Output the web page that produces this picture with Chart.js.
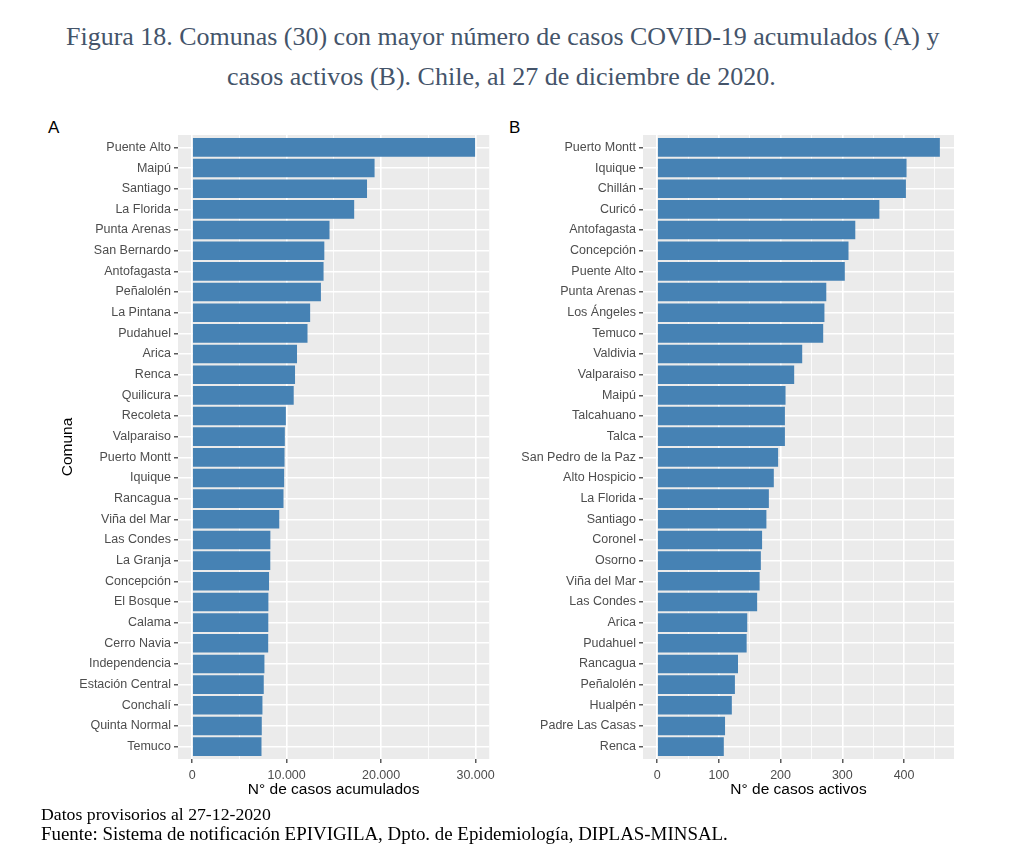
<!DOCTYPE html>
<html>
<head>
<meta charset="utf-8">
<script src="https://cdn.jsdelivr.net/npm/chart.js@4.4.1/dist/chart.umd.min.js"></script>
<style>
  html, body { margin:0; padding:0; background:#fff; }
  body { width:1020px; height:863px; position:relative; overflow:hidden; }
  .txt { position:absolute; white-space:nowrap; line-height:1; margin:0; }
  .serif { font-family:"Liberation Serif", serif; }
  .title { color:#44546A; }
  .foot { color:#000; }
  .tag { font-family:"Liberation Sans", Arial, sans-serif; color:#000; font-size:17px; }
  canvas { position:absolute; }
</style>
</head>
<body>
<div class="txt serif title fit" data-w="874" data-b="46" style="left:66px">Figura 18. Comunas (30) con mayor número de casos COVID-19 acumulados (A) y</div>
<div class="txt serif title fit" data-w="549" data-b="86" style="left:227px">casos activos (B). Chile, al 27 de diciembre de 2020.</div>
<div class="txt tag" data-b="133" style="left:48px">A</div>
<div class="txt tag" data-b="133" style="left:509px">B</div>
<canvas id="chartA" width="500" height="710" style="left:0px;top:100px"></canvas>
<canvas id="chartB" width="480" height="710" style="left:500px;top:100px"></canvas>
<div class="txt serif foot fit" data-w="230" data-b="821" style="left:41px">Datos provisorios al 27-12-2020</div>
<div class="txt serif foot fit" data-w="687" data-b="841" style="left:41px">Fuente: Sistema de notificación EPIVIGILA, Dpto. de Epidemiología, DIPLAS-MINSAL.</div>
<script>
// ---- Data ----
const comunasA = ["Puente Alto","Maipú","Santiago","La Florida","Punta Arenas","San Bernardo","Antofagasta","Peñalolén","La Pintana","Pudahuel","Arica","Renca","Quilicura","Recoleta","Valparaiso","Puerto Montt","Iquique","Rancagua","Viña del Mar","Las Condes","La Granja","Concepción","El Bosque","Calama","Cerro Navia","Independencia","Estación Central","Conchalí","Quinta Normal","Temuco"];
const casosAcumulados = [29950,19310,18510,17150,14540,13990,13910,13630,12490,12210,11100,10890,10750,9920,9810,9780,9740,9670,9220,8280,8270,8140,8070,8060,8050,7650,7580,7440,7370,7340];

const comunasB = ["Puerto Montt","Iquique","Chillán","Curicó","Antofagasta","Concepción","Puente Alto","Punta Arenas","Los Ángeles","Temuco","Valdivia","Valparaiso","Maipú","Talcahuano","Talca","San Pedro de la Paz","Alto Hospicio","La Florida","Santiago","Coronel","Osorno","Viña del Mar","Las Condes","Arica","Pudahuel","Rancagua","Peñalolén","Hualpén","Padre Las Casas","Renca"];
const casosActivos = [458,404,403,360,321,310,304,274,271,269,235,222,208,207,207,196,189,181,177,170,168,166,162,146,145,131,126,121,110,108];

const ticksA = [0,10000,20000,30000];
const minorTicksA = [5000,15000,25000];
const ticksB = [0,100,200,300,400];
const minorTicksB = [50,150,250,350,450];

// ---- Text fitting ----
document.querySelectorAll('.fit').forEach(el => {
  el.style.fontSize = '100px';
  const w100 = el.getBoundingClientRect().width;
  const S = 100 * (+el.dataset.w) / w100;
  el.style.fontSize = S + 'px';
  el.style.top = ((+el.dataset.b) - 0.8375 * S) + 'px';
});
document.querySelectorAll('.tag').forEach(el => {
  el.style.top = ((+el.dataset.b) - 0.8465 * 17) + 'px';
});

// ---- Charts ----
const fmt = v => String(v).replace(/\B(?=(\d{3})+(?!\d))/g, '.');
const panelBg = {
  id: 'panelBg',
  beforeDraw(chart) {
    const {ctx, chartArea: a} = chart;
    ctx.save();
    ctx.fillStyle = '#EBEBEB';
    ctx.fillRect(a.left, a.top, a.right - a.left, a.bottom - a.top);
    ctx.restore();
  }
};
const tickFont = {family: 'Liberation Sans', size: 12.5};
const titleFont = {family: 'Liberation Sans', size: 15.5};

function makeChart(id, cats, vals, major, minor, xTitle, yTitle, g) {
  const maxV = Math.max(...vals);
  const allTicks = major.concat(minor).sort((a, b) => a - b);
  const isMinor = v => minor.includes(v);
  return new Chart(document.getElementById(id), {
    type: 'bar',
    data: {
      datasets: [{
        data: vals.map((v, i) => ({x: v, y: i})),
        backgroundColor: '#4682B4',
        borderWidth: 0,
        barPercentage: 0.9,
        categoryPercentage: 1
      }]
    },
    options: {
      indexAxis: 'y',
      responsive: false,
      animation: false,
      events: [],
      layout: {padding: g.padding},
      plugins: {legend: {display: false}, tooltip: {enabled: false}},
      scales: {
        x: {
          type: 'linear', position: 'bottom',
          min: -0.05 * maxV, max: 1.05 * maxV, offset: false,
          afterBuildTicks: s => { s.ticks = allTicks.map(v => ({value: v})); },
          afterFit: s => { s.height = g.xh; },
          ticks: {autoSkip: false, maxRotation: 0, padding: 5, color: '#4D4D4D', font: tickFont,
                  callback: v => isMinor(v) ? '' : fmt(v)},
          grid: {
            color: '#FFFFFF',
            lineWidth: c => (c.tick && isMinor(c.tick.value)) ? 0.8 : 1.6,
            tickColor: c => (c.tick && isMinor(c.tick.value)) ? 'rgba(0,0,0,0)' : '#333333',
            tickLength: 4, tickWidth: 1.2, drawTicks: true, offset: false
          },
          border: {display: false},
          title: {display: true, text: xTitle, color: '#000', font: titleFont, padding: 0}
        },
        y: {
          type: 'linear', position: 'left',
          min: -0.6, max: cats.length - 0.4, reverse: true, offset: false,
          afterBuildTicks: s => { s.ticks = cats.map((_, i) => ({value: i})); },
          afterFit: s => { s.width = g.yw; },
          ticks: {autoSkip: false, padding: 3, color: '#4D4D4D', font: tickFont,
                  callback: v => cats[v]},
          grid: {color: '#FFFFFF', lineWidth: 1.6, tickColor: '#333333', tickLength: 4, tickWidth: 1.2, offset: false},
          border: {display: false},
          title: {display: !!yTitle, text: yTitle || '', color: '#000', font: titleFont, padding: 0}
        }
      }
    },
    plugins: [panelBg]
  });
}

makeChart('chartA', comunasA, casosAcumulados, ticksA, minorTicksA,
  'N° de casos acumulados', 'Comuna',
  {padding: {left: 58, top: 35, right: 7, bottom: 11}, yw: 120, xh: 40});
makeChart('chartB', comunasB, casosActivos, ticksB, minorTicksB,
  'N° de casos activos', null,
  {padding: {left: 0, top: 35, right: 26, bottom: 11}, yw: 143, xh: 40});
</script>
</body>
</html>
